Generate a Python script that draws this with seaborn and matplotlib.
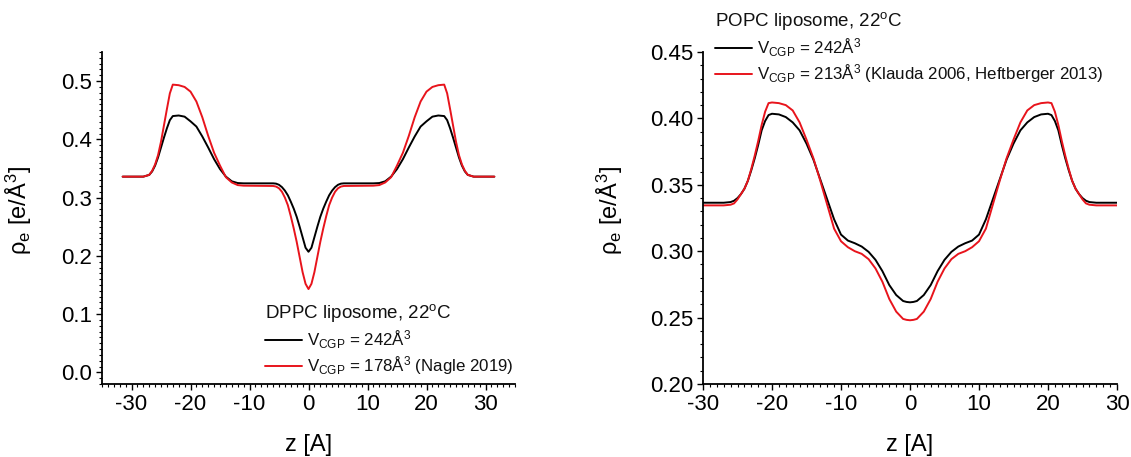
import numpy as np
import pandas as pd
import matplotlib
matplotlib.use("Agg")
import matplotlib.pyplot as plt
from matplotlib.ticker import MultipleLocator, FixedLocator
import seaborn as sns

# ---------------- data ----------------
z_dppc = [-31.5, -28, -27, -26.5, -26, -25.5, -25, -24.5, -24, -23.5, -23, -22, -21, -20,
          -19, -18, -17, -16, -15, -14, -13, -12, -11, -6, -5.5, -5, -4.5, -4, -3.5, -3,
          -2.5, -2, -1.5, -1, -0.5, 0,
          0.5, 1, 1.5, 2, 2.5, 3, 3.5, 4, 4.5, 5, 5.5, 6, 11, 12, 13, 14, 15, 16, 17, 18,
          19, 20, 21, 22, 23, 23.5, 24, 24.5, 25, 25.5, 26, 26.5, 27, 28, 31.5]
rho_dppc_242 = [0.336, 0.336, 0.339, 0.345, 0.355, 0.369, 0.386, 0.403, 0.419, 0.433, 0.440,
                0.441, 0.439, 0.431, 0.422, 0.405, 0.386, 0.366, 0.349, 0.336, 0.328, 0.325,
                0.3245, 0.3245, 0.324, 0.322, 0.318, 0.312, 0.304, 0.293, 0.281, 0.267, 0.250,
                0.232, 0.214, 0.207,
                0.214, 0.232, 0.250, 0.267, 0.281, 0.293, 0.304, 0.312, 0.318, 0.322, 0.324,
                0.3245, 0.3245, 0.325, 0.328, 0.336, 0.349, 0.366, 0.386, 0.405, 0.422, 0.431,
                0.439, 0.441, 0.440, 0.433, 0.419, 0.403, 0.386, 0.369, 0.355, 0.345, 0.339,
                0.336, 0.336]
rho_dppc_178 = [0.336, 0.336, 0.339, 0.346, 0.357, 0.373, 0.396, 0.424, 0.452, 0.479, 0.494,
                0.493, 0.490, 0.482, 0.465, 0.438, 0.406, 0.377, 0.355, 0.335, 0.326, 0.3215,
                0.3205, 0.3200, 0.319, 0.316, 0.310, 0.300, 0.287, 0.268, 0.247, 0.224, 0.198,
                0.172, 0.152, 0.143,
                0.152, 0.172, 0.198, 0.224, 0.247, 0.268, 0.287, 0.300, 0.310, 0.316, 0.319,
                0.3200, 0.3205, 0.3215, 0.326, 0.335, 0.355, 0.377, 0.406, 0.438, 0.465, 0.482,
                0.490, 0.493, 0.494, 0.479, 0.452, 0.424, 0.396, 0.373, 0.357, 0.346, 0.339,
                0.336, 0.336]

z_popc = [-30, -27, -26, -25.5, -25, -24.5, -24, -23.5, -23, -22.5, -22, -21.5, -21, -20.5,
          -20, -19, -18, -17, -16, -15, -14, -13, -12, -11, -10, -9, -8, -7, -6, -5, -4, -3,
          -2, -1, -0.5, 0,
          0.5, 1, 2, 3, 4, 5, 6, 7, 8, 9, 10, 11, 12, 13, 14, 15, 16, 17, 18, 19, 20, 20.5,
          21, 21.5, 22, 22.5, 23, 23.5, 24, 24.5, 25, 25.5, 26, 27, 30]
rho_popc_242 = [0.3365, 0.3365, 0.337, 0.338, 0.340, 0.343, 0.347, 0.353, 0.361, 0.370, 0.380,
                0.391, 0.398, 0.4025, 0.4035, 0.403, 0.401, 0.397, 0.391, 0.381, 0.369, 0.354,
                0.339, 0.324, 0.3125, 0.308, 0.306, 0.3035, 0.2995, 0.2935, 0.285, 0.2745,
                0.267, 0.2625, 0.2618, 0.2615,
                0.2618, 0.2625, 0.267, 0.2745, 0.285, 0.2935, 0.2995, 0.3035, 0.306, 0.308,
                0.3125, 0.324, 0.339, 0.354, 0.369, 0.381, 0.391, 0.397, 0.401, 0.403, 0.4035,
                0.4025, 0.398, 0.391, 0.380, 0.370, 0.361, 0.353, 0.347, 0.343, 0.340, 0.338,
                0.337, 0.3365, 0.3365]
rho_popc_213 = [0.3345, 0.3345, 0.335, 0.336, 0.339, 0.343, 0.347, 0.353, 0.362, 0.372, 0.383,
                0.395, 0.405, 0.4115, 0.412, 0.4115, 0.410, 0.406, 0.397, 0.384, 0.370, 0.353,
                0.335, 0.317, 0.3075, 0.303, 0.300, 0.298, 0.294, 0.287, 0.277, 0.264, 0.2545,
                0.249, 0.2483, 0.248,
                0.2483, 0.249, 0.2545, 0.264, 0.277, 0.287, 0.294, 0.298, 0.300, 0.303, 0.3075,
                0.317, 0.335, 0.353, 0.370, 0.384, 0.397, 0.406, 0.410, 0.4115, 0.412, 0.4115,
                0.405, 0.395, 0.383, 0.372, 0.362, 0.353, 0.347, 0.343, 0.339, 0.336, 0.335,
                0.3345, 0.3345]

labels_dppc = [r"V$_{\mathrm{CGP}}$ = 242Å$^{3}$",
               r"V$_{\mathrm{CGP}}$ = 178Å$^{3}$ (Nagle 2019)"]
labels_popc = [r"V$_{\mathrm{CGP}}$ = 242Å$^{3}$",
               r"V$_{\mathrm{CGP}}$ = 213Å$^{3}$ (Klauda 2006, Heftberger 2013)"]
title_dppc = r"DPPC liposome, 22$^{\mathrm{o}}$C"
title_popc = r"POPC liposome, 22$^{\mathrm{o}}$C"
xlabel = "z [A]"
ylabel = r"ρ$_{\mathrm{e}}$ [e/Å$^{3}$]"

# ---------------- style ----------------
sns.set_theme(style="ticks")
plt.rcParams["font.family"] = ["Liberation Sans", "DejaVu Sans"]
plt.rcParams["mathtext.fontset"] = "custom"
plt.rcParams["mathtext.rm"] = "Liberation Sans"
plt.rcParams["mathtext.it"] = "Liberation Sans:italic"
plt.rcParams["mathtext.bf"] = "Liberation Sans:bold"

BLACK = "#000000"
RED = "#e8141c"

df_dppc = pd.concat([
    pd.DataFrame({"z": z_dppc, "rho": rho_dppc_242, "series": labels_dppc[0]}),
    pd.DataFrame({"z": z_dppc, "rho": rho_dppc_178, "series": labels_dppc[1]}),
])
df_popc = pd.concat([
    pd.DataFrame({"z": z_popc, "rho": rho_popc_242, "series": labels_popc[0]}),
    pd.DataFrame({"z": z_popc, "rho": rho_popc_213, "series": labels_popc[1]}),
])

W, H = 1131, 457
fig = plt.figure(figsize=(W / 100, H / 100), dpi=100)
ax1 = fig.add_axes([102 / W, 1 - 384 / H, 413 / W, 332 / H])
ax2 = fig.add_axes([703 / W, 1 - 384 / H, 414 / W, 332 / H])

TICK_FS = 16
LABEL_FS = 17
LEG_FS = 12.2
TITLE_FS = 13.5


def draw(ax, df, labels, title, xlim, ylim, xmaj, ymaj, ymin_loc, yfmt, leg_xy, ylab_x):
    sns.lineplot(data=df, x="z", y="rho", hue="series", hue_order=labels,
                 palette=[BLACK, RED], sort=False, estimator=None, lw=1.4, ax=ax,
                 legend=False)
    ax.set_xlim(*xlim)
    ax.set_ylim(*ylim)
    ax.xaxis.set_major_locator(FixedLocator(xmaj))
    ax.xaxis.set_minor_locator(MultipleLocator(1))
    ax.yaxis.set_major_locator(FixedLocator(ymaj))
    ax.yaxis.set_minor_locator(MultipleLocator(ymin_loc))
    ax.set_yticklabels([yfmt.format(v) for v in ymaj])
    ax.set_xticklabels([f"{v:d}" for v in xmaj])
    sns.despine(ax=ax)
    for s in ("left", "bottom"):
        ax.spines[s].set_linewidth(1.3)
        ax.spines[s].set_color("black")
    ax.tick_params(which="major", direction="out", length=4.5, width=1.0, color="black",
                   labelsize=TICK_FS, pad=2.5, labelcolor="black")
    ax.tick_params(which="minor", direction="out", length=2.2, width=0.8, color="black")
    ax.set_xlabel(xlabel, fontsize=LABEL_FS, color="black")
    ax.set_ylabel(ylabel, fontsize=LABEL_FS, color="black")
    ax.xaxis.set_label_coords(0.5, -0.15)
    ax.yaxis.set_label_coords(ylab_x, 0.524)
    ax.grid(False)
    leg = ax.legend(handles=ax.lines[:2], labels=labels, title=title, loc="upper left",
                    bbox_to_anchor=(leg_xy[0] / W, 1 - leg_xy[1] / H),
                    bbox_transform=fig.transFigure, frameon=False, fontsize=LEG_FS,
                    title_fontsize=TITLE_FS, handlelength=2.2, handletextpad=0.25,
                    labelspacing=0.25, borderpad=0, borderaxespad=0, alignment="left")
    leg.get_title().set_color("#111111")
    for t in leg.get_texts():
        t.set_color("#111111")


draw(ax1, df_dppc, labels_dppc, title_dppc, (-35, 35), (-0.02, 0.55),
     [-30, -20, -10, 0, 10, 20, 30], [0.0, 0.1, 0.2, 0.3, 0.4, 0.5], 0.01, "{:.1f}",
     (265, 302), -0.165)
draw(ax2, df_popc, labels_popc, title_popc, (-30, 30), (0.20, 0.45),
     [-30, -20, -10, 0, 10, 20, 30], [0.20, 0.25, 0.30, 0.35, 0.40, 0.45], 0.01, "{:.2f}",
     (715, 10), -0.188)

fig.savefig("out.png", dpi=100)
